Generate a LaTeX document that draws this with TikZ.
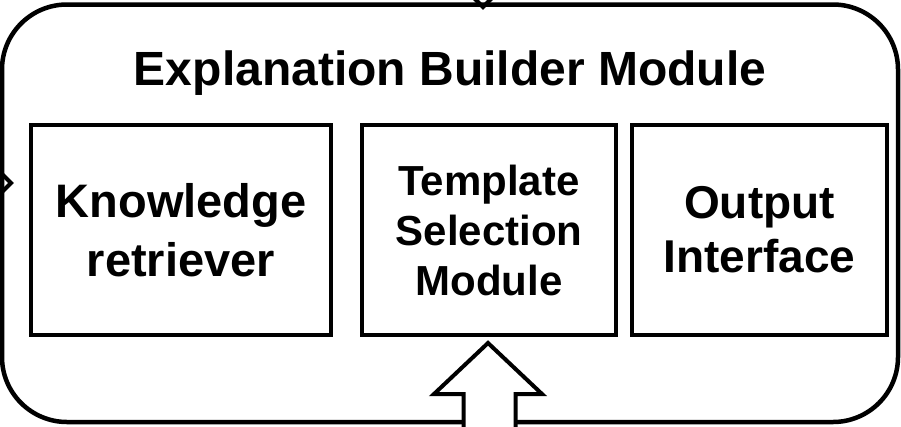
\documentclass[tikz,border=0pt]{standalone}
\usepackage{fontspec}
\setmainfont{Liberation Sans}
\usetikzlibrary{calc}
\tikzset{
  outerbox/.style={draw, line width=4.5pt, rounded corners=65pt, minimum width=896pt, minimum height=417.5pt, inner sep=0pt},
  modbox/.style={draw, line width=4pt, minimum height=210pt, inner sep=0pt, align=center, font=\bfseries},
  chev/.style={draw, line width=4pt, line join=miter},
  blockarrow/.style={draw, fill=white, line width=4pt, line join=miter},
}
\begin{document}
\begin{tikzpicture}[x=1pt,y=-1pt]
\useasboundingbox (0,0) rectangle (901,426);
\node[outerbox] (ebm) at (450,213.25) {};
\node[anchor=base, inner sep=0pt, font=\fontsize{48}{56}\selectfont\bfseries] (title) at (450,85) {Explanation Builder Module};
\node[modbox, minimum width=300pt, font=\fontsize{47}{59}\selectfont\bfseries] (kr) at (181,230) {Knowledge\\retriever};
\node[modbox, minimum width=254pt, font=\fontsize{42}{50}\selectfont\bfseries] (ts) at (489,230) {Template\\Selection\\Module};
\node[modbox, minimum width=255pt, font=\fontsize{46}{54}\selectfont\bfseries] (oi) at (759.5,230) {Output\\Interface};
% incoming arrow tips (cropped)
\coordinate (toptip) at (483,7);
\coordinate (lefttip) at (11,183);
\draw[chev] ($(toptip)+(-9,-9)$) -- (toptip) -- ($(toptip)+(9,-9)$);
\draw[chev] ($(lefttip)+(-13,-13)$) -- (lefttip) -- ($(lefttip)+(-13,13)$);
% block arrow into Template Selection Module
\coordinate (tip) at ($(ts.south)+(-1,6)$);
\draw[blockarrow] ($(tip)+(-24.5,95)$) -- ($(tip)+(-24.5,51)$) -- ($(tip)+(-54,51)$) -- (tip)
  -- ($(tip)+(54,51)$) -- ($(tip)+(27.5,51)$) -- ($(tip)+(27.5,95)$);
\end{tikzpicture}
\end{document}
